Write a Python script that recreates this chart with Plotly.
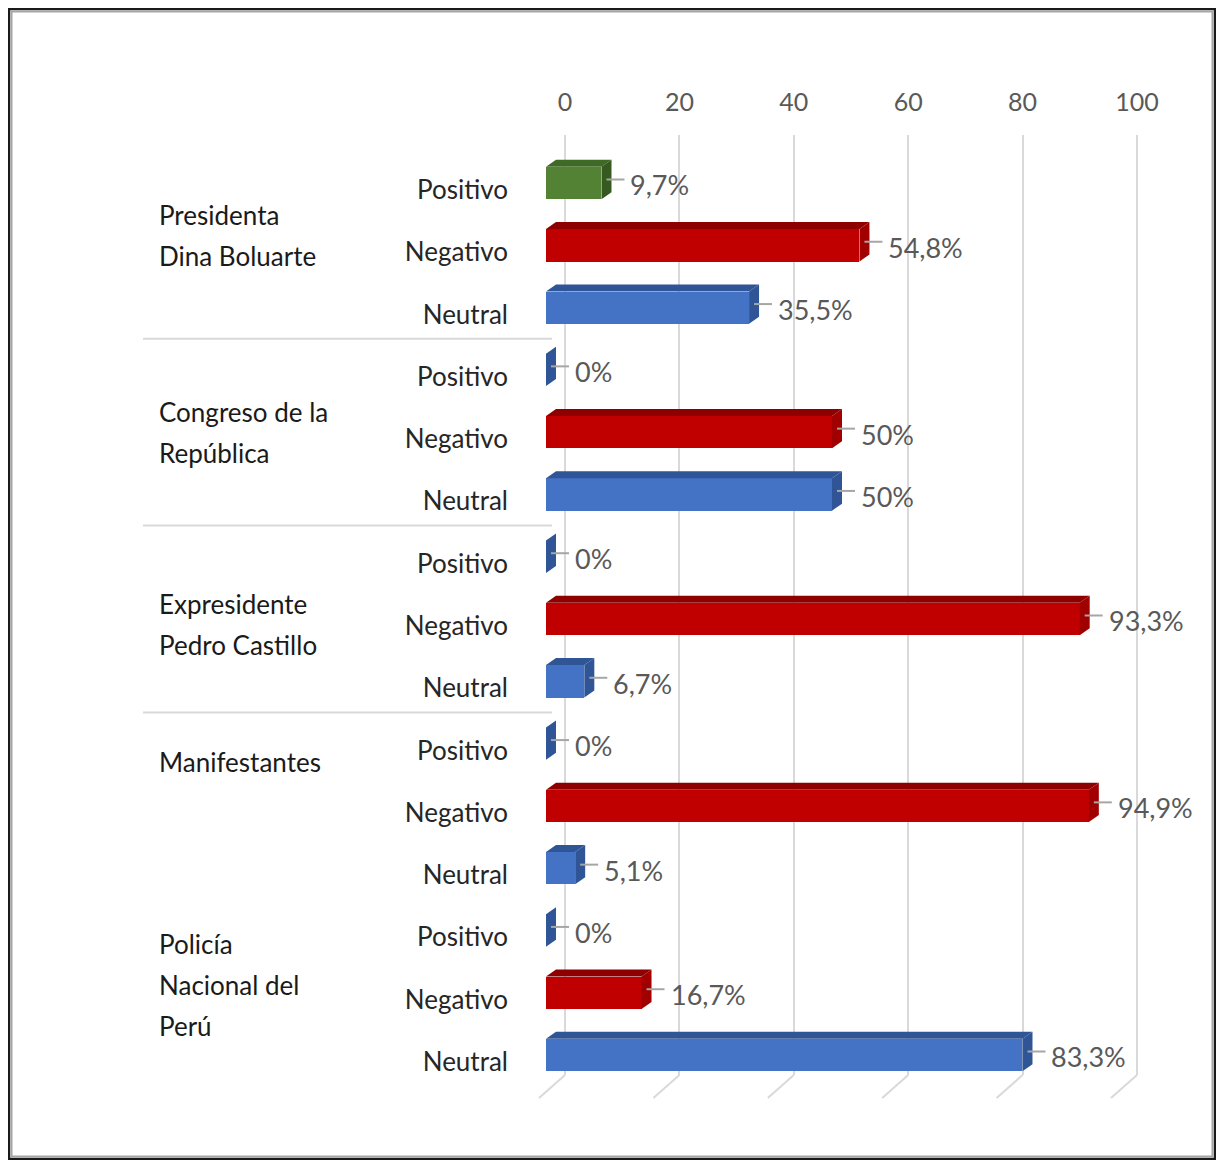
import plotly.graph_objects as go

# ---- data ----
group_lines = [["Presidenta", "Dina Boluarte"],
               ["Congreso de la", "República"],
               ["Expresidente", "Pedro Castillo"],
               ["Manifestantes"],
               ["Policía", "Nacional del", "Perú"]]
sentiments = ["Positivo", "Negativo", "Neutral"]
positivo = [9.7, 0, 0, 0, 0]
negativo = [54.8, 50, 93.3, 94.9, 16.7]
neutral = [35.5, 50, 6.7, 5.1, 83.3]
x_ticks = [0, 20, 40, 60, 80, 100]

# ---- style ----
OFF = 8                      # page body margin
W, H = 1224 - 2 * OFF, 1168 - 2 * OFF
FONT = "Lato"
front_col = {"Positivo": "#548235", "Negativo": "#C00000", "Neutral": "#4472C4"}
top_col = {"Positivo": "#3E6A26", "Negativo": "#8E0000", "Neutral": "#2F5597"}
side_col = {"Positivo": "#35591F", "Negativo": "#A00000", "Neutral": "#2F5597"}
zero_col = "#2F5597"

PXU = 572 / 100.0          # px per x unit
ROW = (1055 - 183) / 14.0  # px per row
DX = 10 / PXU              # depth x (units)
DY = 7 / ROW               # depth y (rows)
HALF = 0.26                # half thickness of front face (rows)
BACK_PAD = 6               # extra units each side on back-wall axis


def fy(p):
    return 1 - (p - OFF) / H


def fx(p):
    return (p - OFF) / W


def fmt(v):
    if abs(v - round(v)) < 1e-9:
        return f"{int(round(v))}%"
    return f"{v:.1f}".replace(".", ",") + "%"


series = {"Positivo": positivo, "Negativo": negativo, "Neutral": neutral}

fig = go.Figure()
shapes = []
annotations = []

# invisible trace holding the back-wall axis (first subplot, drawn underneath)
fig.add_trace(go.Scatter(x=[0, 100], y=[0, 0], mode="markers",
                         marker=dict(opacity=0), xaxis="x", yaxis="y",
                         showlegend=False, hoverinfo="skip"))

tickvals, ticktext = [], []
for si, s in enumerate(sentiments):
    ys = [g * 3 + si for g in range(len(group_lines))]
    vals = series[s]
    fig.add_trace(go.Bar(
        x=vals, y=ys, orientation="h", width=2 * HALF,
        marker=dict(color=front_col[s], line=dict(width=0)),
        showlegend=False, hoverinfo="x+y", xaxis="x2", yaxis="y2"))
    for y, v in zip(ys, vals):
        yt, yb = y - HALF, y + HALF
        if v > 0:
            shapes.append(dict(type="path", xref="x2", yref="y2",
                path=f"M 0,{yt} L {v},{yt} L {v+DX},{yt-DY} L {DX},{yt-DY} Z",
                fillcolor=top_col[s], line=dict(width=0), layer="above"))
            sc = side_col[s]
        else:
            sc = zero_col
        shapes.append(dict(type="path", xref="x2", yref="y2",
            path=f"M {v},{yt} L {v+DX},{yt-DY} L {v+DX},{yb-DY} L {v},{yb} Z",
            fillcolor=sc, line=dict(width=0), layer="above"))
        # leader line
        shapes.append(dict(type="line", xref="x2", yref="y2",
            x0=v + 5 / PXU, x1=v + 23 / PXU, y0=y - DY / 2, y1=y - DY / 2,
            line=dict(color="#A6A6A6", width=2)))
        annotations.append(dict(x=v, y=y, xref="x2", yref="y2", text=fmt(v),
            showarrow=False, xanchor="left", yanchor="middle",
            xshift=27, yshift=-2,
            font=dict(family=FONT, size=27, color="#595959")))
        tickvals.append(y + 0.11)
        ticktext.append(s)

# group labels
group_shift = [10, 0, -6, 44, 8]
for g, lines in enumerate(group_lines):
    n = len(lines)
    for i, t in enumerate(lines):
        annotations.append(dict(x=fx(157), xref="paper", y=g * 3 + 1, yref="y2",
            text=t, showarrow=False, xanchor="left", yanchor="middle",
            yshift=group_shift[g] - (i - (n - 1) / 2) * 41,
            font=dict(family=FONT, size=26, color="#1A1A1A")))

# group separators
for yy in [2.5, 5.5, 8.5]:
    shapes.append(dict(type="line", xref="paper", yref="y2",
        x0=fx(143), x1=fx(552), y0=yy, y1=yy,
        line=dict(color="#D9D9D9", width=2), layer="below"))

# floor diagonals
for k in x_ticks:
    shapes.append(dict(type="line", xref="x", yref="paper",
        x0=k, x1=k - 26 / PXU, y0=fy(1075), y1=fy(1098),
        line=dict(color="#D9D9D9", width=2), layer="below"))

# outer frame
shapes.append(dict(type="rect", xref="paper", yref="paper",
    x0=fx(9), x1=fx(1215), y0=fy(9), y1=fy(1159),
    line=dict(color="#1A1A1A", width=2.5)))
shapes.append(dict(type="rect", xref="paper", yref="paper",
    x0=fx(11.5), x1=fx(1212.5), y0=fy(11.5), y1=fy(1156.5),
    line=dict(color="#A6A6A6", width=2)))

back0, back100 = 565, 1137
fig.update_layout(
    width=W, height=H, margin=dict(l=0, r=0, t=0, b=0, autoexpand=False),
    paper_bgcolor="white", plot_bgcolor="rgba(0,0,0,0)",
    bargap=0, barmode="overlay", showlegend=False,
    font=dict(family=FONT),
    # back wall axis (gridlines + top tick labels)
    xaxis=dict(domain=[fx(back0 - BACK_PAD * PXU), fx(back100 + BACK_PAD * PXU)],
               range=[-BACK_PAD, 100 + BACK_PAD], anchor="y",
               side="top", tickmode="array", tickvals=x_ticks,
               showgrid=True, gridcolor="#D9D9D9", gridwidth=2,
               zeroline=False, showline=False, ticks="",
               ticklabelstandoff=18,
               tickfont=dict(family=FONT, size=25, color="#595959")),
    yaxis=dict(domain=[fy(1075), fy(135)], range=[0, 1], anchor="x",
               visible=False, showgrid=False, zeroline=False),
    # front axis for bars
    xaxis2=dict(domain=[fx(546), fx(1118)], range=[0, 100], anchor="y2",
                showgrid=False, zeroline=False, showticklabels=False,
                showline=False),
    yaxis2=dict(domain=[fy(1055 + ROW / 2), fy(183 - ROW / 2)],
                range=[14.5, -0.5], anchor="x2",
                tickmode="array", tickvals=tickvals, ticktext=ticktext,
                ticklabelstandoff=37, ticks="",
                tickfont=dict(family=FONT, size=26, color="#262626"),
                showgrid=False, zeroline=False, showline=False),
    shapes=shapes, annotations=annotations,
)

fig.write_html("out.html")
